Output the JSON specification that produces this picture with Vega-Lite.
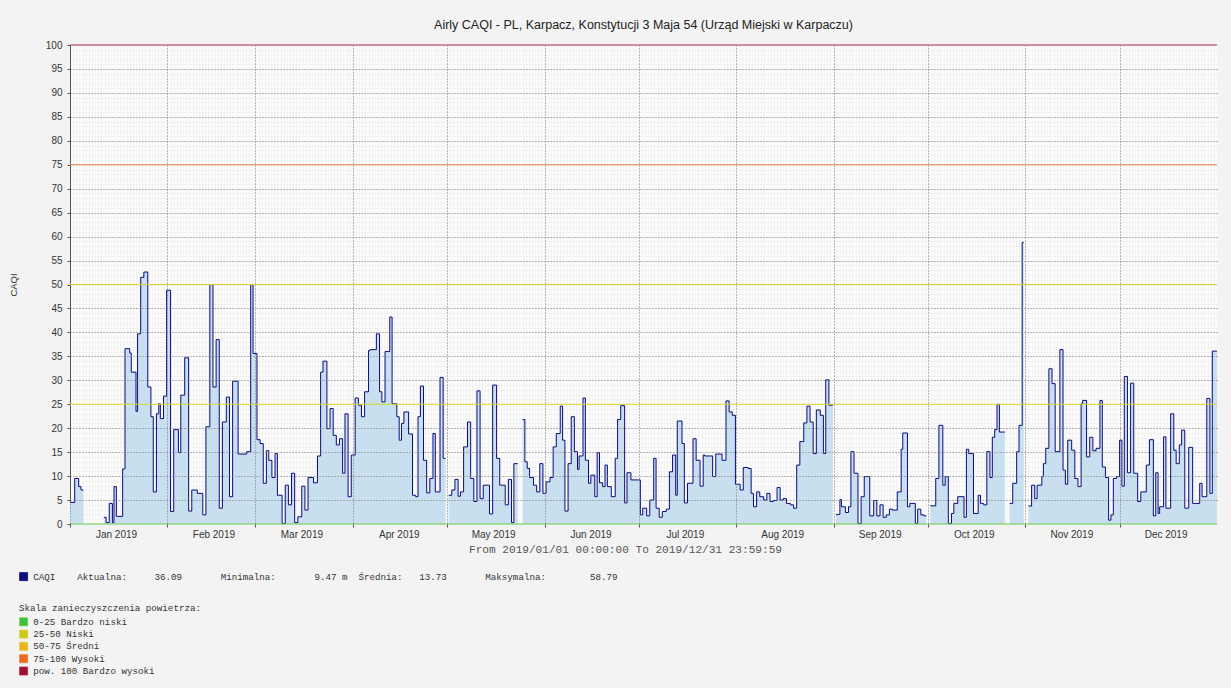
{
  "$schema": "https://vega.github.io/schema/vega-lite/v6.json",
  "width": 1147,
  "height": 479,
  "autosize": "none",
  "padding": {"left": 70, "top": 45, "right": 14, "bottom": 164},
  "background": "#f3f3f3",
  "config": {"view": {"stroke": null, "fill": "#fcfcfc"}},
  "title": {
    "text": "Airly CAQI - PL, Karpacz, Konstytucji 3 Maja 54 (Urząd Miejski w Karpaczu)",
    "font": "Liberation Sans", "fontSize": 12.5, "fontWeight": "normal", "color": "#222222",
    "anchor": "middle", "offset": 9
  },
  "datasets": {
    "caqi": [
      {"t":"2019-01-01T00:00","v":4.5},{"t":"2019-01-02T12:00","v":9.5},{"t":"2019-01-03T18:00","v":7.8},{"t":"2019-01-04T12:00","v":7.1},{"t":"2019-01-05T06:00","v":7.1},{"t":"2019-01-05T07:00","v":null},
      {"t":"2019-01-11T18:00","v":1.4},{"t":"2019-01-12T12:00","v":0.3},{"t":"2019-01-13T12:00","v":4.3},{"t":"2019-01-14T12:00","v":0.3},{"t":"2019-01-15T00:00","v":7.8},{"t":"2019-01-15T18:00","v":1.6},{"t":"2019-01-17T18:00","v":11.5},{"t":"2019-01-18T12:00","v":36.6},{"t":"2019-01-20T00:00","v":35.7},{"t":"2019-01-20T12:00","v":31.7},{"t":"2019-01-22T00:00","v":23.5},{"t":"2019-01-22T12:00","v":39.7},{"t":"2019-01-23T12:00","v":51.5},{"t":"2019-01-24T12:00","v":52.6},{"t":"2019-01-25T18:00","v":28.6},{"t":"2019-01-26T18:00","v":22.4},{"t":"2019-01-27T12:00","v":6.7},{"t":"2019-01-28T12:00","v":23},{"t":"2019-01-29T06:00","v":25.1},{"t":"2019-01-29T18:00","v":22},{"t":"2019-01-30T18:00","v":26.7},{"t":"2019-01-31T18:00","v":48.8},
      {"t":"2019-02-02T00:00","v":2.6},{"t":"2019-02-03T00:00","v":19.7},{"t":"2019-02-04T12:00","v":14.9},{"t":"2019-02-05T06:00","v":26.9},{"t":"2019-02-06T12:00","v":34.7},{"t":"2019-02-07T18:00","v":2.7},{"t":"2019-02-08T18:00","v":7.1},{"t":"2019-02-10T12:00","v":6.4},{"t":"2019-02-12T06:00","v":1.9},{"t":"2019-02-13T06:00","v":20.3},{"t":"2019-02-14T12:00","v":50},{"t":"2019-02-15T12:00","v":28.6},{"t":"2019-02-16T12:00","v":38.5},{"t":"2019-02-17T12:00","v":3.3},{"t":"2019-02-18T12:00","v":21.3},{"t":"2019-02-19T18:00","v":26.5},{"t":"2019-02-20T18:00","v":5.7},{"t":"2019-02-21T18:00","v":29.8},{"t":"2019-02-23T12:00","v":14.6},{"t":"2019-02-26T06:00","v":15.1},{"t":"2019-02-27T12:00","v":50},{"t":"2019-02-28T06:00","v":35.6},
      {"t":"2019-03-01T12:00","v":17.6},{"t":"2019-03-02T12:00","v":16.8},{"t":"2019-03-03T12:00","v":8.5},{"t":"2019-03-04T12:00","v":15.3},{"t":"2019-03-05T06:00","v":13.3},{"t":"2019-03-06T06:00","v":9.7},{"t":"2019-03-07T06:00","v":14.7},{"t":"2019-03-08T00:00","v":6},{"t":"2019-03-09T12:00","v":0.1},{"t":"2019-03-10T12:00","v":8.1},{"t":"2019-03-11T12:00","v":4},{"t":"2019-03-12T12:00","v":10.6},{"t":"2019-03-13T12:00","v":0.3},{"t":"2019-03-14T12:00","v":1.5},{"t":"2019-03-15T18:00","v":7.9},{"t":"2019-03-16T18:00","v":2.9},{"t":"2019-03-17T18:00","v":9.7},{"t":"2019-03-19T12:00","v":8.6},{"t":"2019-03-20T18:00","v":14.2},{"t":"2019-03-21T18:00","v":31.7},{"t":"2019-03-22T12:00","v":34},{"t":"2019-03-23T18:00","v":19.9},{"t":"2019-03-24T18:00","v":24.1},{"t":"2019-03-25T18:00","v":18.5},{"t":"2019-03-26T18:00","v":16.5},{"t":"2019-03-27T18:00","v":17.8},{"t":"2019-03-28T18:00","v":10.6},{"t":"2019-03-29T12:00","v":23},{"t":"2019-03-30T12:00","v":5.7},{"t":"2019-03-31T12:00","v":14.4},
      {"t":"2019-04-01T18:00","v":26.3},{"t":"2019-04-02T18:00","v":24.8},{"t":"2019-04-03T18:00","v":22.4},{"t":"2019-04-04T18:00","v":27.6},{"t":"2019-04-06T00:00","v":36.2},{"t":"2019-04-06T12:00","v":36.4},{"t":"2019-04-08T12:00","v":39.7},{"t":"2019-04-09T12:00","v":27.6},{"t":"2019-04-10T06:00","v":25.5},{"t":"2019-04-11T06:00","v":36},{"t":"2019-04-12T18:00","v":43.2},{"t":"2019-04-13T12:00","v":25.1},{"t":"2019-04-15T00:00","v":22.4},{"t":"2019-04-15T18:00","v":17.5},{"t":"2019-04-16T12:00","v":21},{"t":"2019-04-17T06:00","v":23.4},{"t":"2019-04-18T18:00","v":18.8},{"t":"2019-04-20T00:00","v":6},{"t":"2019-04-21T00:00","v":5.7},{"t":"2019-04-21T18:00","v":22.4},{"t":"2019-04-22T12:00","v":28.8},{"t":"2019-04-23T12:00","v":13.3},{"t":"2019-04-24T12:00","v":6.5},{"t":"2019-04-25T12:00","v":9.5},{"t":"2019-04-26T12:00","v":18.9},{"t":"2019-04-27T06:00","v":6.7},{"t":"2019-04-28T18:00","v":30.6},{"t":"2019-04-29T18:00","v":13.7},{"t":"2019-04-30T12:00","v":13.7},{"t":"2019-04-30T13:00","v":null},
      {"t":"2019-05-01T12:00","v":6},{"t":"2019-05-02T12:00","v":7.1},{"t":"2019-05-03T12:00","v":9.3},{"t":"2019-05-04T12:00","v":5.8},{"t":"2019-05-05T06:00","v":6.7},{"t":"2019-05-06T06:00","v":16.1},{"t":"2019-05-07T12:00","v":21.3},{"t":"2019-05-08T12:00","v":9.5},{"t":"2019-05-09T12:00","v":4.7},{"t":"2019-05-10T12:00","v":27.8},{"t":"2019-05-11T12:00","v":5.3},{"t":"2019-05-12T12:00","v":8.1},{"t":"2019-05-14T12:00","v":2.1},{"t":"2019-05-15T12:00","v":29},{"t":"2019-05-16T18:00","v":13.7},{"t":"2019-05-17T18:00","v":8.1},{"t":"2019-05-19T12:00","v":4},{"t":"2019-05-20T12:00","v":9.3},{"t":"2019-05-21T12:00","v":0.3},{"t":"2019-05-22T06:00","v":12.6},{"t":"2019-05-23T12:00","v":12.6},{"t":"2019-05-23T13:00","v":null},
      {"t":"2019-05-25T00:00","v":21.8},{"t":"2019-05-25T18:00","v":13},{"t":"2019-05-26T12:00","v":11.6},{"t":"2019-05-27T06:00","v":9.7},{"t":"2019-05-28T12:00","v":8.1},{"t":"2019-05-29T12:00","v":6.7},{"t":"2019-05-30T12:00","v":12.6},{"t":"2019-05-31T12:00","v":6.4},
      {"t":"2019-06-01T12:00","v":8.8},{"t":"2019-06-02T18:00","v":9.7},{"t":"2019-06-03T18:00","v":16.1},{"t":"2019-06-04T18:00","v":18.9},{"t":"2019-06-06T00:00","v":24.6},{"t":"2019-06-06T18:00","v":17.5},{"t":"2019-06-07T12:00","v":2.7},{"t":"2019-06-08T12:00","v":12.6},{"t":"2019-06-09T12:00","v":22.4},{"t":"2019-06-10T12:00","v":15.1},{"t":"2019-06-11T12:00","v":11.4},{"t":"2019-06-12T00:00","v":14.2},{"t":"2019-06-13T06:00","v":26.3},{"t":"2019-06-14T00:00","v":13.3},{"t":"2019-06-15T00:00","v":8.5},{"t":"2019-06-15T18:00","v":10.2},{"t":"2019-06-17T00:00","v":5.7},{"t":"2019-06-17T18:00","v":14.9},{"t":"2019-06-18T12:00","v":8.6},{"t":"2019-06-19T12:00","v":7.8},{"t":"2019-06-20T06:00","v":12.3},{"t":"2019-06-21T00:00","v":7.8},{"t":"2019-06-22T06:00","v":5.7},{"t":"2019-06-23T12:00","v":13.7},{"t":"2019-06-24T06:00","v":21.8},{"t":"2019-06-25T06:00","v":24.7},{"t":"2019-06-26T12:00","v":4.4},{"t":"2019-06-27T06:00","v":10.7},{"t":"2019-06-28T12:00","v":9.2},
      {"t":"2019-07-01T12:00","v":1.9},{"t":"2019-07-02T06:00","v":3.3},{"t":"2019-07-03T12:00","v":1.7},{"t":"2019-07-04T12:00","v":5},{"t":"2019-07-05T18:00","v":13.7},{"t":"2019-07-06T12:00","v":3.3},{"t":"2019-07-07T12:00","v":1.4},{"t":"2019-07-08T12:00","v":2.6},{"t":"2019-07-09T18:00","v":3.1},{"t":"2019-07-10T18:00","v":10.9},{"t":"2019-07-11T18:00","v":14.4},{"t":"2019-07-12T18:00","v":6},{"t":"2019-07-13T06:00","v":21.5},{"t":"2019-07-14T18:00","v":16.8},{"t":"2019-07-15T12:00","v":4.4},{"t":"2019-07-16T12:00","v":8.5},{"t":"2019-07-18T06:00","v":17.8},{"t":"2019-07-19T06:00","v":13.3},{"t":"2019-07-20T12:00","v":7.9},{"t":"2019-07-21T12:00","v":14.4},{"t":"2019-07-22T00:00","v":14.2},{"t":"2019-07-24T12:00","v":9.9},{"t":"2019-07-25T12:00","v":14.6},{"t":"2019-07-27T12:00","v":13.3},{"t":"2019-07-28T18:00","v":25.7},{"t":"2019-07-29T18:00","v":23.4},{"t":"2019-07-30T18:00","v":22.7},{"t":"2019-07-31T18:00","v":8.3},
      {"t":"2019-08-02T06:00","v":7.1},{"t":"2019-08-03T06:00","v":11.8},{"t":"2019-08-04T18:00","v":11.6},{"t":"2019-08-05T18:00","v":6.4},{"t":"2019-08-06T12:00","v":3.6},{"t":"2019-08-07T12:00","v":6.7},{"t":"2019-08-08T12:00","v":5.7},{"t":"2019-08-09T18:00","v":5},{"t":"2019-08-10T18:00","v":6.4},{"t":"2019-08-11T18:00","v":4.7},{"t":"2019-08-12T18:00","v":4.9},{"t":"2019-08-14T00:00","v":7.6},{"t":"2019-08-15T00:00","v":5},{"t":"2019-08-16T00:00","v":5.3},{"t":"2019-08-17T00:00","v":4.3},{"t":"2019-08-18T06:00","v":4},{"t":"2019-08-19T06:00","v":3.3},{"t":"2019-08-20T06:00","v":12.3},{"t":"2019-08-21T06:00","v":17.2},{"t":"2019-08-22T12:00","v":21.1},{"t":"2019-08-23T12:00","v":24.6},{"t":"2019-08-24T12:00","v":21.3},{"t":"2019-08-25T12:00","v":14.7},{"t":"2019-08-26T12:00","v":23.8},{"t":"2019-08-27T18:00","v":22.7},{"t":"2019-08-28T18:00","v":14.7},{"t":"2019-08-29T12:00","v":30.1},{"t":"2019-08-30T12:00","v":24.8},{"t":"2019-08-31T18:00","v":24.8},{"t":"2019-08-31T19:00","v":null},
      {"t":"2019-09-01T18:00","v":2},{"t":"2019-09-03T00:00","v":5.1},{"t":"2019-09-03T12:00","v":3.6},{"t":"2019-09-04T18:00","v":2.4},{"t":"2019-09-05T18:00","v":3.6},{"t":"2019-09-06T12:00","v":15.1},{"t":"2019-09-07T12:00","v":10.6},{"t":"2019-09-08T18:00","v":0.1},{"t":"2019-09-09T18:00","v":5.7},{"t":"2019-09-10T18:00","v":9.9},{"t":"2019-09-12T12:00","v":1.7},{"t":"2019-09-13T18:00","v":4.9},{"t":"2019-09-14T18:00","v":1.7},{"t":"2019-09-15T18:00","v":4},{"t":"2019-09-16T18:00","v":1.4},{"t":"2019-09-17T18:00","v":1.9},{"t":"2019-09-18T18:00","v":3.1},{"t":"2019-09-19T18:00","v":2.9},{"t":"2019-09-21T06:00","v":6.7},{"t":"2019-09-22T12:00","v":15.6},{"t":"2019-09-23T00:00","v":19},{"t":"2019-09-24T12:00","v":3.6},{"t":"2019-09-25T06:00","v":4.3},{"t":"2019-09-27T00:00","v":0.1},{"t":"2019-09-27T18:00","v":3.1},{"t":"2019-09-28T18:00","v":1.9},{"t":"2019-09-29T18:00","v":1.7},{"t":"2019-09-30T12:00","v":1.7},{"t":"2019-09-30T13:00","v":null},
      {"t":"2019-10-01T18:00","v":3.8},{"t":"2019-10-03T12:00","v":9.5},{"t":"2019-10-04T12:00","v":20.6},{"t":"2019-10-05T18:00","v":8.1},{"t":"2019-10-06T12:00","v":9.9},{"t":"2019-10-07T12:00","v":0.1},{"t":"2019-10-08T12:00","v":2.2},{"t":"2019-10-09T06:00","v":4.3},{"t":"2019-10-10T12:00","v":5.7},{"t":"2019-10-12T12:00","v":1.4},{"t":"2019-10-13T06:00","v":15.6},{"t":"2019-10-14T00:00","v":14.7},{"t":"2019-10-15T12:00","v":2.2},{"t":"2019-10-17T00:00","v":6},{"t":"2019-10-17T18:00","v":4.3},{"t":"2019-10-18T18:00","v":4},{"t":"2019-10-19T18:00","v":15.1},{"t":"2019-10-20T18:00","v":9.7},{"t":"2019-10-21T12:00","v":18.1},{"t":"2019-10-22T06:00","v":19.7},{"t":"2019-10-23T00:00","v":25},{"t":"2019-10-23T18:00","v":19.2},{"t":"2019-10-25T12:00","v":19.2},{"t":"2019-10-25T13:00","v":null},
      {"t":"2019-10-27T00:00","v":4.3},{"t":"2019-10-28T00:00","v":8.5},{"t":"2019-10-29T06:00","v":15.1},{"t":"2019-10-30T00:00","v":20.6},{"t":"2019-10-31T00:00","v":58.79},{"t":"2019-10-31T12:00","v":58.79},{"t":"2019-10-31T13:00","v":null},
      {"t":"2019-11-02T00:00","v":3.75},{"t":"2019-11-03T00:00","v":8.1},{"t":"2019-11-04T00:00","v":5.3},{"t":"2019-11-04T18:00","v":8.1},{"t":"2019-11-06T06:00","v":9.9},{"t":"2019-11-06T18:00","v":12.6},{"t":"2019-11-07T12:00","v":15.8},{"t":"2019-11-08T12:00","v":32.4},{"t":"2019-11-09T12:00","v":29.3},{"t":"2019-11-10T12:00","v":15.1},{"t":"2019-11-12T00:00","v":36.4},{"t":"2019-11-13T00:00","v":11.25},{"t":"2019-11-13T18:00","v":8.3},{"t":"2019-11-14T12:00","v":17.5},{"t":"2019-11-15T18:00","v":15.4},{"t":"2019-11-16T18:00","v":9.5},{"t":"2019-11-17T18:00","v":7.8},{"t":"2019-11-18T18:00","v":25.1},{"t":"2019-11-19T06:00","v":25.8},{"t":"2019-11-20T12:00","v":14},{"t":"2019-11-21T12:00","v":18.1},{"t":"2019-11-22T12:00","v":15.3},{"t":"2019-11-23T12:00","v":15.8},{"t":"2019-11-24T18:00","v":25.8},{"t":"2019-11-25T12:00","v":11.9},{"t":"2019-11-26T12:00","v":9.7},{"t":"2019-11-27T12:00","v":0.8},{"t":"2019-11-28T06:00","v":1.9},{"t":"2019-11-29T00:00","v":9.5},{"t":"2019-11-30T00:00","v":9.9},
      {"t":"2019-12-01T00:00","v":17.5},{"t":"2019-12-01T18:00","v":7.9},{"t":"2019-12-02T12:00","v":30.8},{"t":"2019-12-03T12:00","v":10.7},{"t":"2019-12-04T12:00","v":29.4},{"t":"2019-12-05T12:00","v":10.6},{"t":"2019-12-06T18:00","v":4.7},{"t":"2019-12-07T18:00","v":6.7},{"t":"2019-12-09T12:00","v":12.3},{"t":"2019-12-10T12:00","v":17.6},{"t":"2019-12-11T18:00","v":1.7},{"t":"2019-12-12T12:00","v":10.7},{"t":"2019-12-13T06:00","v":2.2},{"t":"2019-12-13T18:00","v":3.6},{"t":"2019-12-15T00:00","v":18.2},{"t":"2019-12-15T18:00","v":3.3},{"t":"2019-12-17T06:00","v":23},{"t":"2019-12-18T06:00","v":15.4},{"t":"2019-12-19T00:00","v":12.6},{"t":"2019-12-20T00:00","v":16.5},{"t":"2019-12-20T18:00","v":19.6},{"t":"2019-12-21T18:00","v":3.3},{"t":"2019-12-23T00:00","v":16},{"t":"2019-12-24T06:00","v":4.3},{"t":"2019-12-26T12:00","v":8.5},{"t":"2019-12-27T06:00","v":5.7},{"t":"2019-12-28T18:00","v":26.2},{"t":"2019-12-29T18:00","v":6.4},{"t":"2019-12-30T12:00","v":36.09},{"t":"2019-12-31T23:59:59","v":36.09}
    ],
    "levels": [
      {"level": 0, "label": "0-25 Bardzo niski"},
      {"level": 25, "label": "25-50 Niski"},
      {"level": 50, "label": "50-75 Średni"},
      {"level": 75, "label": "75-100 Wysoki"},
      {"level": 100, "label": "pow. 100 Bardzo wysoki"}
    ]
  },
  "layer": [
    {
      "data": {"name": "caqi"},
      "mark": {"type": "area", "interpolate": "step-after", "color": "#c8dff0", "invalid": "break-paths-show-domains"},
      "encoding": {
        "x": {"field": "t", "type": "temporal",
          "scale": {"domain": [{"year": 2019, "month": 1, "date": 1}, {"year": 2019, "month": 12, "date": 31, "hours": 23, "minutes": 59, "seconds": 59}]},
          "axis": {"orient": "bottom", "tickCount": {"interval": "day", "step": 1}, "grid": true, "gridColor": "#ebebeb", "gridDash": [1, 1], "labels": false, "ticks": false, "domain": false, "title": null, "zindex": 0}},
        "y": {"field": "v", "type": "quantitative",
          "scale": {"domain": [0, 100], "nice": false},
          "axis": {"orient": "left", "tickCount": 100, "grid": true, "gridColor": "#ebebeb", "gridDash": [1, 1], "labels": false, "ticks": false, "domain": false, "title": null, "zindex": 0}}
      }
    },
    {
      "data": {"name": "caqi"},
      "mark": {"type": "line", "interpolate": "step-after", "strokeWidth": 1, "invalid": "break-paths-show-domains"},
      "encoding": {
        "x": {"field": "t", "type": "temporal",
          "scale": {"domain": [{"year": 2019, "month": 1, "date": 1}, {"year": 2019, "month": 12, "date": 31, "hours": 23, "minutes": 59, "seconds": 59}]},
          "axis": {"orient": "bottom", "tickCount": {"interval": "month", "step": 1}, "format": "%b %Y",
            "grid": true, "gridColor": "#777777", "gridDash": [1, 2], "gridWidth": 1,
            "ticks": true, "tickSize": 3, "tickColor": "#555555", "domain": false,
            "labelOffset": 46, "labelFont": "Liberation Sans", "labelFontSize": 10, "labelColor": "#333333", "labelPadding": 2,
            "labelOverlap": false, "labelBound": false, "labelFlush": false,
            "title": "From 2019/01/01 00:00:00 To 2019/12/31 23:59:59", "titleFont": "Liberation Mono", "titleFontSize": 11.1, "titleFontWeight": "normal", "titleColor": "#555555", "titlePadding": 4, "titleX": 555, "titleAlign": "center", "zindex": 1}},
        "y": {"field": "v", "type": "quantitative",
          "scale": {"domain": [0, 100], "nice": false},
          "axis": {"orient": "left", "values": [5, 10, 15, 20, 30, 35, 40, 45, 55, 60, 65, 70, 80, 85, 90, 95], "grid": true, "gridColor": "#777777", "gridDash": [1, 2], "labels": false, "ticks": false, "domain": false, "title": null, "zindex": 1}},
        "stroke": {"datum": "CAQI\u00a0\u00a0\u00a0\u00a0Aktualna:\u00a0\u00a0\u00a0\u00a0\u00a036.09\u00a0\u00a0\u00a0\u00a0\u00a0\u00a0\u00a0Minimalna:\u00a0\u00a0\u00a0\u00a0\u00a0\u00a0\u00a09.47\u00a0m\u00a0\u00a0Średnia:\u00a0\u00a0\u00a013.73\u00a0\u00a0\u00a0\u00a0\u00a0\u00a0\u00a0Maksymalna:\u00a0\u00a0\u00a0\u00a0\u00a0\u00a0\u00a0\u00a058.79", "type": "nominal",
          "scale": {"range": ["#0c0c7c"]},
          "legend": {"orient": "none", "legendX": -51, "legendY": 527, "direction": "vertical", "title": null,
            "labelFont": "Liberation Mono", "labelFontSize": 9.2, "labelColor": "#333333", "labelLimit": 2000, "labelOffset": 5,
            "symbolType": "square", "symbolSize": 64,
            "encode": {"symbols": {"update": {"fill": {"value": "#0c0c7c"}, "stroke": {"value": "#222222"}, "strokeWidth": {"value": 0.8}, "opacity": {"value": 1}}}}}}
      }
    },
    {
      "data": {"name": "levels"},
      "mark": {"type": "rule", "strokeWidth": 1.2},
      "encoding": {
        "y": {"field": "level", "type": "quantitative",
          "scale": {"domain": [0, 100], "nice": false},
          "axis": {"orient": "left", "values": [0, 5, 10, 15, 20, 25, 30, 35, 40, 45, 50, 55, 60, 65, 70, 75, 80, 85, 90, 95, 100],
            "grid": false, "ticks": true, "tickSize": 3, "tickColor": "#555555", "domain": true, "domainColor": "#444444",
            "labelFont": "Liberation Sans", "labelFontSize": 10, "labelColor": "#333333", "labelPadding": 5,
            "title": "CAQI", "titleFont": "Liberation Sans", "titleFontSize": 9.5, "titleFontWeight": "normal", "titleColor": "#333333", "titlePadding": 27}},
        "color": {"field": "label", "type": "nominal",
          "scale": {"domain": ["0-25 Bardzo niski", "25-50 Niski", "50-75 Średni", "75-100 Wysoki", "pow. 100 Bardzo wysoki"],
                    "range": ["#6cc94e", "#d8d42c", "#dcd028", "#e6803a", "#b02848"]},
          "legend": {"orient": "none", "legendX": -51, "legendY": 559, "direction": "vertical",
            "title": "Skala zanieczyszczenia powietrza:", "titleFont": "Liberation Mono", "titleFontSize": 9.2, "titleFontWeight": "normal", "titleColor": "#333333", "titlePadding": 4, "titleLimit": 2000,
            "labelFont": "Liberation Mono", "labelFontSize": 9.2, "labelColor": "#333333", "labelOffset": 5, "labelLimit": 2000,
            "symbolType": "square", "symbolSize": 64, "rowPadding": 0.3,
            "encode": {"symbols": {"update": {
              "fill": {"signal": "datum.value === '0-25 Bardzo niski' ? '#3fbf3f' : datum.value === '25-50 Niski' ? '#c8c81e' : datum.value === '50-75 Średni' ? '#eab21e' : datum.value === '75-100 Wysoki' ? '#ec6a1e' : '#9e0e2e'"},
              "stroke": {"value": "#333333"}, "strokeWidth": {"value": 0.8}, "opacity": {"value": 1}}}}}}
      }
    }
  ],
  "resolve": {"axis": {"x": "independent", "y": "independent"}}
}
